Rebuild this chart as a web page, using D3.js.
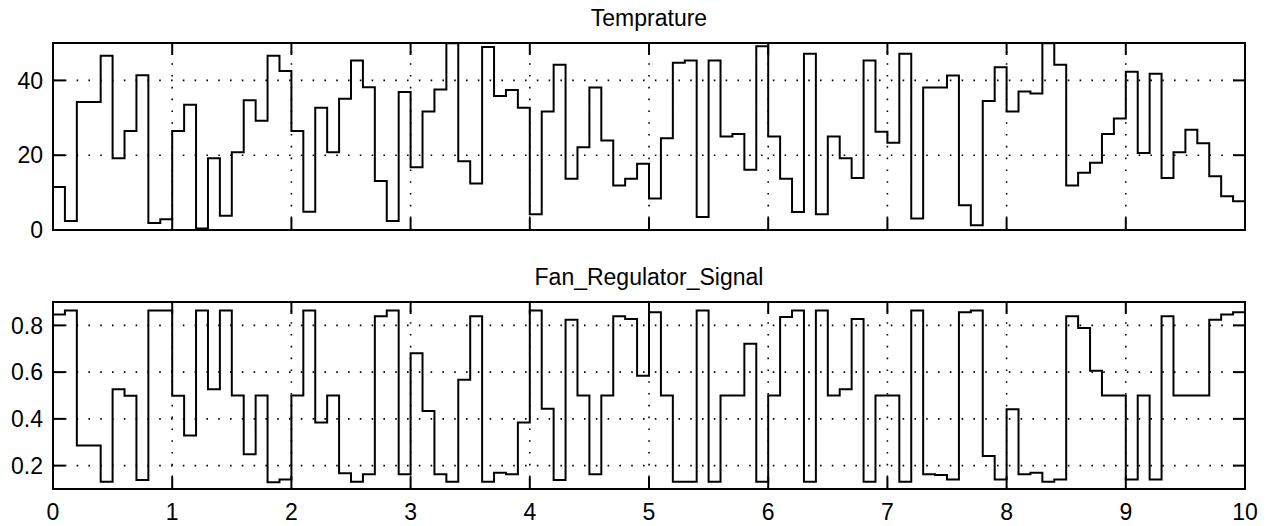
<!DOCTYPE html>
<html>
<head>
<meta charset="utf-8">
<script src="https://cdn.jsdelivr.net/npm/d3@7"></script>
<style>
  html, body { margin: 0; padding: 0; background: #fff; }
  svg { display: block; }
  text { font-family: "Liberation Sans", Arial, sans-serif; fill: #000; }
</style>
</head>
<body>
<svg id="chart" width="1268" height="526"></svg>
<script>
// ---- data ----
const sampleTime = 0.1;             // seconds between samples
const xTicks = [0, 1, 2, 3, 4, 5, 6, 7, 8, 9, 10];
const tempTicks = [0, 20, 40];
const fanTicks = [0.2, 0.4, 0.6, 0.8];
const tempTitle = "Temprature";
const fanTitle = "Fan_Regulator_Signal";

const temperature = [
  11.5, 2.4, 34.2, 34.2, 46.6, 19.2, 26.5, 41.4, 1.9, 2.9,
  26.5, 33.5, 0.4, 19.2, 3.8, 20.8, 34.7, 29.2, 46.6, 42.5,
  26.5, 4.9, 32.7, 20.8, 35.1, 45.3, 38.2, 13.1, 2.4, 36.9,
  16.8, 31.7, 37.6, 49.9, 18.4, 12.4, 48.9, 35.8, 37.4, 32.7,
  4.2, 31.7, 44.2, 13.7, 22.1, 38.1, 23.9, 11.9, 13.7, 17.7,
  8.4, 24.5, 44.7, 45.3, 3.5, 45.3, 25.0, 25.7, 16.1, 49.1,
  25.0, 13.7, 4.8, 47.1, 4.2, 25.0, 19.2, 13.9, 45.3, 26.3,
  23.3, 47.1, 3.1, 38.1, 38.1, 41.3, 6.6, 1.3, 34.5, 43.5,
  31.7, 37.0, 36.5, 49.9, 44.2, 11.9, 15.3, 18.0, 25.7, 29.8,
  42.3, 20.6, 41.8, 13.9, 20.8, 26.8, 23.2, 14.4, 9.0, 7.7
];

const fanSignal = [
  0.846, 0.864, 0.286, 0.286, 0.131, 0.527, 0.499, 0.139, 0.864, 0.864,
  0.499, 0.329, 0.864, 0.527, 0.864, 0.500, 0.249, 0.500, 0.129, 0.141,
  0.500, 0.864, 0.384, 0.500, 0.167, 0.131, 0.163, 0.839, 0.864, 0.163,
  0.681, 0.434, 0.163, 0.131, 0.567, 0.839, 0.131, 0.170, 0.163, 0.384,
  0.864, 0.443, 0.139, 0.824, 0.500, 0.163, 0.500, 0.839, 0.827, 0.584,
  0.856, 0.500, 0.131, 0.131, 0.864, 0.131, 0.500, 0.500, 0.721, 0.131,
  0.500, 0.836, 0.864, 0.131, 0.864, 0.500, 0.527, 0.827, 0.131, 0.500,
  0.500, 0.131, 0.864, 0.163, 0.160, 0.141, 0.856, 0.864, 0.241, 0.141,
  0.441, 0.163, 0.170, 0.131, 0.141, 0.839, 0.789, 0.606, 0.500, 0.500,
  0.141, 0.500, 0.141, 0.839, 0.500, 0.500, 0.500, 0.824, 0.846, 0.856
];

// ---- drawing ----
const svg = d3.select("#chart");
const FONT = 23;
const TICK = 12;
const left = 53, right = 1245;

const x = d3.scaleLinear().domain([0, 10]).range([left, right]);

function panel(opts) {
  const { values, yDomain, yTicks, top, bottom, title, showXLabels, id, fmt } = opts;
  const y = d3.scaleLinear().domain(yDomain).range([bottom, top]);
  const g = svg.append("g");

  g.append("clipPath").attr("id", id)
    .append("rect").attr("x", left).attr("y", top)
    .attr("width", right - left).attr("height", bottom - top);

  // grid (dotted)
  const grid = g.append("g").attr("stroke", "#000").attr("stroke-width", 1.6)
    .attr("stroke-dasharray", "1.6 10.2").attr("fill", "none");
  xTicks.forEach(t => {
    if (t === 0 || t === 10) return;
    grid.append("line").attr("x1", x(t)).attr("x2", x(t))
      .attr("y1", bottom).attr("y2", top);
  });
  yTicks.forEach(t => {
    grid.append("line").attr("x1", left).attr("x2", right)
      .attr("y1", y(t)).attr("y2", y(t));
  });

  // stairs line
  const pts = values.map((v, i) => [i * sampleTime, v]);
  pts.push([values.length * sampleTime, values[values.length - 1]]);
  const line = d3.line().x(d => x(d[0])).y(d => y(d[1])).curve(d3.curveStepAfter);
  g.append("path").datum(pts)
    .attr("clip-path", `url(#${id})`)
    .attr("d", line).attr("fill", "none")
    .attr("stroke", "#000").attr("stroke-width", 2)
    .attr("stroke-linejoin", "miter");

  // frame
  g.append("rect").attr("x", left).attr("y", top)
    .attr("width", right - left).attr("height", bottom - top)
    .attr("fill", "none").attr("stroke", "#000").attr("stroke-width", 2);

  // ticks (inward, all four sides)
  const ticks = g.append("g").attr("stroke", "#000").attr("stroke-width", 2);
  xTicks.forEach(t => {
    ticks.append("line").attr("x1", x(t)).attr("x2", x(t)).attr("y1", bottom).attr("y2", bottom - TICK);
    ticks.append("line").attr("x1", x(t)).attr("x2", x(t)).attr("y1", top).attr("y2", top + TICK);
  });
  yTicks.forEach(t => {
    ticks.append("line").attr("x1", left).attr("x2", left + TICK).attr("y1", y(t)).attr("y2", y(t));
    ticks.append("line").attr("x1", right).attr("x2", right - TICK).attr("y1", y(t)).attr("y2", y(t));
  });

  // y tick labels
  yTicks.forEach(t => {
    g.append("text").attr("x", left - 10).attr("y", y(t))
      .attr("dy", "0.36em").attr("text-anchor", "end")
      .attr("font-size", FONT).text(fmt(t));
  });

  // x tick labels
  if (showXLabels) {
    xTicks.forEach(t => {
      g.append("text").attr("x", x(t)).attr("y", bottom + 31)
        .attr("text-anchor", "middle").attr("font-size", FONT).text(t);
    });
  }

  // title
  g.append("text").attr("x", (left + right) / 2).attr("y", top - 17)
    .attr("text-anchor", "middle").attr("font-size", FONT).text(title);
}

panel({ values: temperature, yDomain: [0, 50], yTicks: tempTicks, top: 43, bottom: 230,
        title: tempTitle, showXLabels: false, id: "clipTop", fmt: d => String(d) });
panel({ values: fanSignal, yDomain: [0.1, 0.9], yTicks: fanTicks, top: 302, bottom: 489,
        title: fanTitle, showXLabels: true, id: "clipBottom", fmt: d => d.toFixed(1) });
</script>
</body>
</html>
